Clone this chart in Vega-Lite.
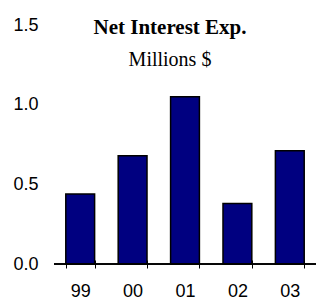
{
  "$schema": "https://vega.github.io/schema/vega-lite/v6.json",
  "width": 262,
  "height": 239,
  "autosize": "none",
  "padding": {"left": 54, "top": 25, "right": 2, "bottom": 41},
  "background": "white",
  "title": {
    "text": "Net Interest Exp.",
    "subtitle": "Millions $",
    "font": "Liberation Serif",
    "fontSize": 21,
    "fontWeight": "bold",
    "subtitleFont": "Liberation Serif",
    "subtitleFontSize": 20,
    "subtitleColor": "black",
    "color": "black",
    "anchor": "middle",
    "frame": "group",
    "orient": "top",
    "offset": -54,
    "dx": -15,
    "subtitlePadding": 12
  },
  "data": {
    "values": [
      {"year": "99", "value": 0.44},
      {"year": "00", "value": 0.68},
      {"year": "01", "value": 1.05},
      {"year": "02", "value": 0.38},
      {"year": "03", "value": 0.71}
    ]
  },
  "layer": [
    {
      "mark": {"type": "bar", "color": "#000080", "stroke": "black", "strokeWidth": 1.5},
      "encoding": {
        "x": {
          "field": "year",
          "type": "nominal",
          "sort": null,
          "scale": {"paddingInner": 0.45, "paddingOuter": 0.225},
          "axis": {
            "title": null,
            "labelAngle": 0,
            "labelFont": "Liberation Sans",
            "labelFontSize": 18,
            "labelColor": "black",
            "labelPadding": 14,
            "domain": false,
            "offset": -4,
            "tickColor": "black",
            "tickSize": 8,
            "tickBand": "extent",
            "tickExtra": true
          }
        },
        "y": {
          "field": "value",
          "type": "quantitative",
          "scale": {"domain": [0, 1.5], "nice": false},
          "axis": {
            "title": null,
            "values": [0, 0.5, 1, 1.5],
            "format": ".1f",
            "grid": false,
            "domain": false,
            "ticks": false,
            "labelFont": "Liberation Sans",
            "labelFontSize": 18,
            "labelColor": "black",
            "labelPadding": 16
          }
        }
      }
    },
    {
      "mark": {"type": "rule", "color": "black", "strokeWidth": 1},
      "encoding": {"y": {"datum": 0}}
    }
  ],
  "config": {"view": {"stroke": null}}
}
